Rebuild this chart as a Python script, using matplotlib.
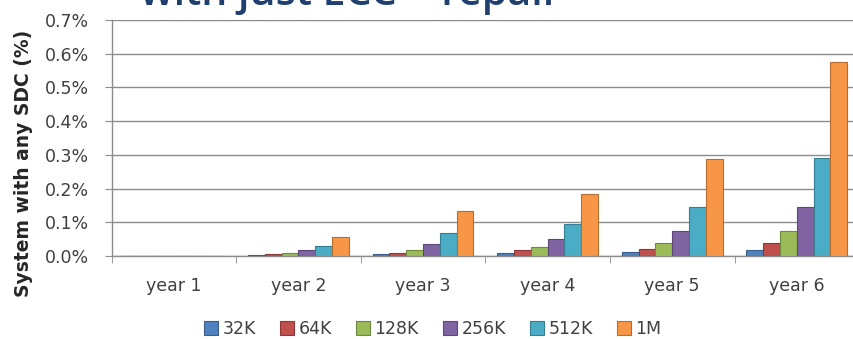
import numpy as np
import matplotlib.pyplot as plt
from matplotlib.ticker import FuncFormatter

years = ["year 1", "year 2", "year 3", "year 4", "year 5", "year 6"]
sizes = ["32K", "64K", "128K", "256K", "512K", "1M"]

# SDC rate (%) per scrub size, one value per year
sdc_32k = [0.0, 0.003, 0.005, 0.010, 0.012, 0.019]
sdc_64k = [0.0, 0.006, 0.009, 0.017, 0.022, 0.037]
sdc_128k = [0.0, 0.010, 0.018, 0.026, 0.038, 0.074]
sdc_256k = [0.0, 0.018, 0.036, 0.050, 0.075, 0.145]
sdc_512k = [0.0, 0.030, 0.068, 0.094, 0.145, 0.290]
sdc_1m = [0.0, 0.055, 0.132, 0.183, 0.288, 0.574]
series = [sdc_32k, sdc_64k, sdc_128k, sdc_256k, sdc_512k, sdc_1m]

colors = ["#4F81BD", "#C0504D", "#9BBB59", "#8064A2", "#4BACC6", "#F79646"]
edges = ["#385D8A", "#8C3836", "#71893F", "#5C4776", "#357D91", "#B66D31"]

fig = plt.figure(figsize=(8.54, 3.39), dpi=100)
ax = fig.add_axes([0.1306, 0.245, 0.8754, 0.696])

x = np.arange(len(years))
bw = 0.135
for i, (vals, c, ec) in enumerate(zip(series, colors, edges)):
    off = (i - 2.5) * bw
    ax.bar(x + off, vals, bw, color=c, edgecolor=ec, linewidth=0.8,
           label=sizes[i], zorder=3)

ax.set_xlim(-0.5, len(years) - 0.5)
ax.set_ylim(0, 0.7)
ax.set_yticks(np.arange(0, 0.71, 0.1))
ax.yaxis.set_major_formatter(FuncFormatter(lambda v, p: f"{v:.1f}%"))
ax.set_xticks(x)
ax.set_xticklabels(years)
ax.set_xticks(np.arange(-0.5, len(years), 1.0), minor=True)

ax.grid(axis="y", color="#8C8C8C", linewidth=1.0, zorder=0)
for s in ["top", "right"]:
    ax.spines[s].set_visible(False)
ax.spines["left"].set_color("#8C8C8C")
ax.spines["bottom"].set_color("#8C8C8C")
ax.spines["left"].set_linewidth(1.0)
ax.spines["bottom"].set_linewidth(1.0)

ax.tick_params(axis="y", which="major", length=5, color="#8C8C8C",
               labelsize=12.5, labelcolor="#404040", pad=11)
ax.tick_params(axis="x", which="major", length=0, labelsize=12.5,
               labelcolor="#404040", pad=15)
ax.tick_params(axis="x", which="minor", length=5, color="#8C8C8C")

fig.text(0.027, 0.519, "System with any SDC (%)", fontsize=13.5,
         fontweight="bold", color="#262626", rotation=90,
         ha="center", va="center")

leg = ax.legend(loc="center", bbox_to_anchor=(0.43, -0.31), ncol=6,
                frameon=False, fontsize=12.5, handlelength=0.8,
                handleheight=0.8, handletextpad=0.25, columnspacing=1.4)
for t in leg.get_texts():
    t.set_color("#404040")

fig.text(0.164, 0.984, "with just ECC + repair", fontsize=29.6,
         color="#1F3F6E", ha="left", va="baseline", family="Open Sans",
         fontweight="semibold")

fig.savefig("out.png", dpi=100)
